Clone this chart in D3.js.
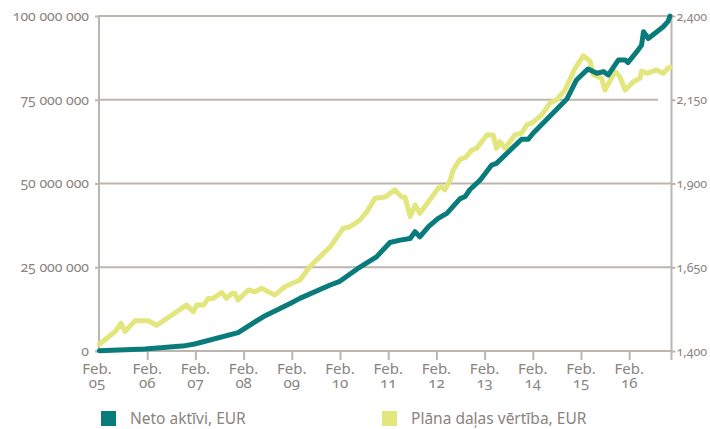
<!DOCTYPE html>
<html>
<head>
<meta charset="utf-8">
<script src="https://cdn.jsdelivr.net/npm/d3@7"></script>
<style>
  html, body { margin: 0; padding: 0; background: #fff; }
  svg { display: block; }
  text { font-family: "Noto Sans", "Open Sans", sans-serif; font-feature-settings: "onum" 1; fill: #8a8480; }
</style>
</head>
<body>
<svg id="chart" width="710" height="429"></svg>
<script>
// ---- Data (decimal years) ----
const netoDates = [2005.09, 2006.04, 2006.87, 2007.07, 2007.97, 2008.32, 2008.49, 2009.05, 2009.25, 2009.88,
  2010.08, 2010.44, 2010.84, 2011.12, 2011.33, 2011.54, 2011.64, 2011.74, 2011.92, 2012.12,
  2012.30, 2012.57, 2012.68, 2012.78, 2012.99, 2013.23, 2013.33, 2013.85, 2013.99, 2014.09,
  2014.79, 2014.99, 2015.23, 2015.41, 2015.55, 2015.65, 2015.86, 2016.00, 2016.06, 2016.27,
  2016.34, 2016.38, 2016.48, 2016.79, 2016.89, 2016.93];
const netoValues = [0.1, 0.6, 1.6, 2.1, 5.5, 8.7, 10.2, 14.2, 15.7, 19.7,
  20.8, 24.5, 28.1, 32.4, 33.1, 33.6, 35.6, 34.1, 37.1, 39.6,
  41.1, 45.4, 46.1, 48.2, 51.0, 55.5, 56.0, 63.2, 63.2, 65.0,
  75.2, 80.9, 84.2, 82.9, 83.4, 82.4, 86.9, 86.9, 86.1, 89.9,
  91.3, 95.3, 93.3, 96.8, 98.4, 100.0].map(v => v * 1e6);

const planaDates = [2005.09, 2005.42, 2005.54, 2005.62, 2005.83, 2006.11, 2006.28, 2006.90, 2007.04, 2007.11,
  2007.25, 2007.35, 2007.45, 2007.63, 2007.73, 2007.84, 2007.90, 2007.97, 2008.18, 2008.32,
  2008.46, 2008.73, 2008.94, 2009.25, 2009.46, 2009.88, 2010.15, 2010.29, 2010.50, 2010.64,
  2010.81, 2011.02, 2011.22, 2011.36, 2011.43, 2011.54, 2011.64, 2011.74, 2011.99, 2012.12,
  2012.19, 2012.26, 2012.37, 2012.43, 2012.57, 2012.68, 2012.82, 2012.92, 2013.13, 2013.26,
  2013.33, 2013.40, 2013.51, 2013.71, 2013.85, 2013.96, 2014.06, 2014.27, 2014.44, 2014.58,
  2014.75, 2014.96, 2015.13, 2015.27, 2015.34, 2015.51, 2015.58, 2015.79, 2015.89, 2016.00,
  2016.17, 2016.31, 2016.34, 2016.45, 2016.65, 2016.79, 2016.89, 2016.93];
const planaValues = [1420, 1458, 1483, 1458, 1490, 1490, 1477, 1537, 1517, 1537,
  1537, 1557, 1557, 1574, 1557, 1572, 1572, 1552, 1582, 1577,
  1587, 1567, 1592, 1612, 1652, 1711, 1766, 1771, 1791, 1816,
  1856, 1860, 1881, 1860, 1860, 1801, 1836, 1811, 1860, 1886,
  1890, 1881, 1910, 1940, 1972, 1977, 2000, 2005, 2045, 2045,
  2005, 2025, 2005, 2045, 2050, 2075, 2080, 2105, 2140, 2150,
  2179, 2244, 2281, 2266, 2224, 2214, 2179, 2234, 2219, 2179,
  2204, 2214, 2236, 2229, 2239, 2229, 2244, 2247];

const xTickYears = ["05", "06", "07", "08", "09", "10", "11", "12", "13", "14", "15", "16"];
const xTickMonth = "Feb.";
const leftTicks = [0, 25e6, 50e6, 75e6, 100e6];
const rightTicks = [1400, 1650, 1900, 2150, 2400];
const seriesNames = ["Neto aktīvi, EUR", "Plāna daļas vērtība, EUR"];
const colors = ["#0a7b7b", "#e2e67c"];

// ---- Scales ----
const pLeft = 99, pRight = 671.5, pTop = 16, pBottom = 351;
const x = d3.scaleLinear().domain([2005 + 1/12, 2005 + 1/12 + (pRight - pLeft) / 48.2]).range([pLeft, pRight]);
const yL = d3.scaleLinear().domain([0, 100e6]).range([pBottom, pTop]);
const yR = d3.scaleLinear().domain([1400, 2400]).range([pBottom, pTop]);

const svg = d3.select("#chart");
const gridColor = "#bdb6ae";
const fmtL = v => d3.format(",")(v).replace(/,/g, " ");
const fmtR = d3.format(",");

// gridlines (left scale)
svg.append("g").selectAll("line").data(leftTicks.filter(d => d > 0)).join("line")
  .attr("x1", pLeft).attr("x2", d => d === 75e6 ? 658 : pRight)
  .attr("y1", d => yL(d)).attr("y2", d => yL(d))
  .attr("stroke", gridColor).attr("stroke-width", 2);

// left axis
const gL = svg.append("g").attr("transform", `translate(${pLeft},0)`)
  .call(d3.axisLeft(yL).tickValues(leftTicks).tickFormat(fmtL).tickSize(4).tickPadding(6));
gL.select(".domain").remove();
gL.selectAll(".tick line").attr("stroke", gridColor).attr("stroke-width", 2);
gL.selectAll(".tick text").attr("font-size", 14).attr("fill", "#8a8480").attr("font-family", null);
svg.append("line").attr("x1", pLeft).attr("x2", pLeft).attr("y1", pTop - 1).attr("y2", pBottom)
  .attr("stroke", gridColor).attr("stroke-width", 2);

// right axis
const gR = svg.append("g").attr("transform", `translate(${pRight},0)`)
  .call(d3.axisRight(yR).tickValues(rightTicks).tickFormat(fmtR).tickSize(4).tickPadding(1));
gR.select(".domain").remove();
gR.selectAll(".tick line").attr("stroke", gridColor).attr("stroke-width", 2);
gR.selectAll(".tick text").attr("font-size", 12.5).attr("fill", "#8a8480").attr("font-family", null);
svg.append("line").attr("x1", pRight).attr("x2", pRight).attr("y1", pTop - 1).attr("y2", 360)
  .attr("stroke", gridColor).attr("stroke-width", 2);

// x axis
const xTickVals = xTickYears.map((d, i) => 2005 + 1/12 + i);
svg.append("line").attr("x1", pLeft).attr("x2", pRight).attr("y1", pBottom).attr("y2", pBottom)
  .attr("stroke", gridColor).attr("stroke-width", 2);
const gX = svg.append("g").attr("transform", `translate(0,${pBottom})`)
  .call(d3.axisBottom(x).tickValues(xTickVals).tickSize(9).tickFormat(""));
gX.select(".domain").remove();
gX.selectAll(".tick line").attr("stroke", gridColor).attr("stroke-width", 2)
  .attr("opacity", (d, i) => i === 0 ? 0 : 1);
const xl = svg.append("g").selectAll("text").data(xTickVals).join("text")
  .attr("x", (d, i) => x(d) + (i === 0 ? -2 : 0)).attr("y", 374)
  .attr("text-anchor", "middle").attr("font-size", 15).attr("fill", "#8a8480");
xl.append("tspan").attr("x", (d, i) => x(d) + (i === 0 ? -2 : 0)).text(xTickMonth);
xl.append("tspan").attr("x", (d, i) => x(d) + (i === 0 ? -2 : 0)).attr("dy", 14).text((d, i) => xTickYears[i]);

// lines
const planaLine = d3.line().x((d, i) => x(planaDates[i])).y(d => yR(d));
const netoLine = d3.line().x((d, i) => x(netoDates[i])).y(d => yL(d));
svg.append("path").attr("d", planaLine(planaValues)).attr("fill", "none")
  .attr("stroke", colors[1]).attr("stroke-width", 5).attr("stroke-linejoin", "round").attr("stroke-linecap", "round");
svg.append("path").attr("d", netoLine(netoValues)).attr("fill", "none")
  .attr("stroke", colors[0]).attr("stroke-width", 5).attr("stroke-linejoin", "round").attr("stroke-linecap", "round");

// legend
const legX = [101, 382];
const leg = svg.append("g").selectAll("g").data(seriesNames).join("g")
  .attr("transform", (d, i) => `translate(${legX[i]},411)`);
leg.append("rect").attr("width", 15).attr("height", 15).attr("fill", (d, i) => colors[i]);
leg.append("text").attr("x", 29).attr("y", 13).attr("font-size", 15.5).attr("fill", "#7d7773").text(d => d);
</script>
</body>
</html>
